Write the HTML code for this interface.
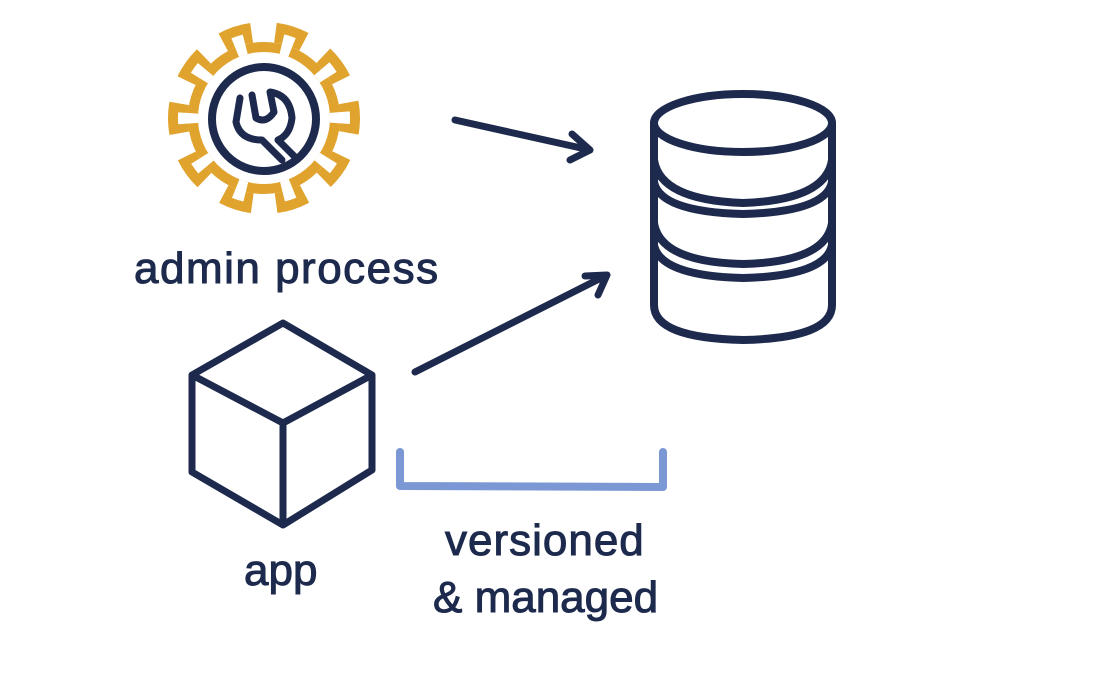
<!DOCTYPE html>
<html><head><style>
body{margin:0;background:#fff;width:1097px;height:676px;overflow:hidden}
svg{display:block}
text{font-family:"Liberation Sans",sans-serif;fill:#1d2a4d;stroke:#1d2a4d;stroke-width:1}
</style></head><body>
<svg width="1097" height="676" viewBox="0 0 1097 676">
<!-- gear -->
<g fill="none" stroke-linecap="butt">
<circle cx="264" cy="118" r="76" fill="#e0a32e"/>
<circle cx="264" cy="118" r="86" stroke="#e0a32e" stroke-width="20" pathLength="360" stroke-dasharray="20 16" stroke-dashoffset="10"/>
<circle cx="264" cy="118" r="76" stroke="#fff" stroke-width="20" pathLength="360" stroke-dasharray="8 28" stroke-dashoffset="4"/>
<circle cx="264" cy="118" r="66" fill="#fff"/>
</g>
<g fill="none" stroke-linecap="round" stroke-linejoin="round">
<circle cx="264" cy="119" r="52" stroke="#1d2a4d" stroke-width="8"/>
<path d="M240 98 L236 122 Q240 140 262 140 L282 160 M252 95 L256 118 Q266 124 274 112 L270 92 Q290 95 292 118 Q290 135 278 140 L296 158" stroke="#1d2a4d" stroke-width="7"/>
<!-- arrows -->
<g stroke="#1d2a4d" stroke-width="7">
<path d="M455 120 L590 150 M572 134 L590 150 L570 160"/>
<path d="M415 372 L607 275 M585 276 L607 275 L598 295"/>
</g>
<!-- cube -->
<g stroke="#1d2a4d" stroke-width="7">
<path d="M283 323 L372 375 L372 470 L283 525 L192 472 L192 375 Z M192 375 L283 423 L372 375 M283 423 L283 525"/>
</g>
<!-- database -->
<g stroke="#1d2a4d" stroke-width="8">
<ellipse cx="743" cy="123" rx="89" ry="29"/>
<path d="M654 123 L654 305 Q654 338 743 340 Q832 338 832 305 L832 123"/>
<path d="M654 160 Q660 200 743 203 Q826 200 832 160"/>
<path d="M654 182 Q660 212 743 214 Q826 212 832 182"/>
<path d="M654 223 Q660 262 743 264 Q826 262 832 223"/>
<path d="M654 245 Q660 276 743 278 Q826 276 832 245"/>
</g>
<!-- bracket -->
<path d="M400 452 L400 486 L663 487 L663 452" stroke="#7b98d4" stroke-width="8"/>
</g>
<text x="134" y="283" font-size="44" letter-spacing="1.5">admin process</text>
<text x="244" y="585" font-size="44">app</text>
<text x="445" y="555" font-size="44" letter-spacing="1">versioned</text>
<text x="433" y="612" font-size="44">&amp; managed</text>
</svg>
</body></html>
